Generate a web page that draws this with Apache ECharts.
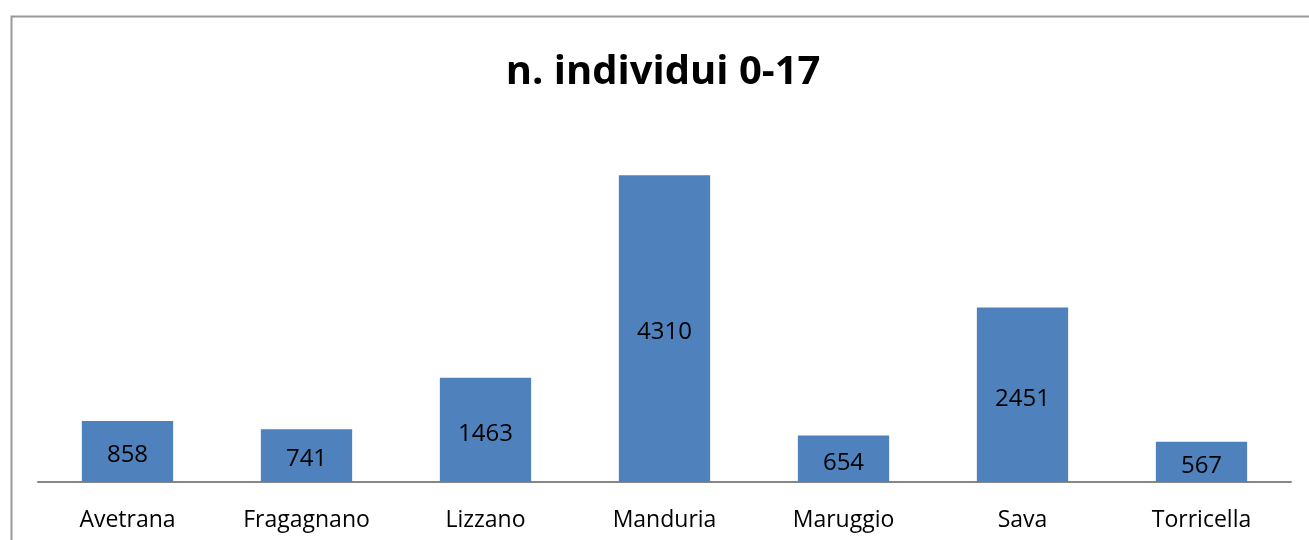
<!DOCTYPE html>
<html>
<head>
<meta charset="utf-8">
<script src="https://cdn.jsdelivr.net/npm/echarts@6/dist/echarts.min.js"></script>
<style>
  html, body { margin: 0; padding: 0; background: #fff; }
  #chart { width: 1309px; height: 540px; }
</style>
</head>
<body>
<div id="chart"></div>
<script>
var categories = ['Avetrana', 'Fragagnano', 'Lizzano', 'Manduria', 'Maruggio', 'Sava', 'Torricella'];
var values = [858, 741, 1463, 4310, 654, 2451, 567];
var chartTitle = 'n. individui 0-17';

var chart = echarts.init(document.getElementById('chart'));

var option = {
    animation: false,
    graphic: [{
        type: 'rect',
        left: 9,
        top: 14,
        shape: { width: 1400, height: 600 },
        style: { fill: 'none', stroke: '#999', lineWidth: 2 },
        silent: true
    }, {
        // title centred over the plot, not the whole canvas
        type: 'text',
        x: 663,
        y: 73,
        style: {
            text: chartTitle,
            align: 'center',
            verticalAlign: 'middle',
            font: 'bold 40px "Open Sans"',
            fill: '#000'
        },
        silent: true
    }],
    grid: { left: 38, right: 18, top: 126, bottom: 58 },
    xAxis: {
        type: 'category',
        data: categories,
        axisTick: { show: false },
        axisLine: { lineStyle: { color: '#868686', width: 2 } },
        axisLabel: {
            fontFamily: 'Open Sans',
            fontSize: 23,
            color: '#000',
            margin: 27
        }
    },
    yAxis: {
        type: 'value',
        min: 0,
        max: 5000,
        show: false,
        splitLine: { show: false }
    },
    series: [{
        type: 'bar',
        data: values,
        barWidth: '51%',
        itemStyle: { color: '#4F81BD' },
        label: {
            show: true,
            position: 'inside',
            offset: [0, 4],
            fontFamily: 'Open Sans',
            fontSize: 24,
            color: '#000'
        }
    }]
};

chart.setOption(option);
</script>
</body>
</html>
